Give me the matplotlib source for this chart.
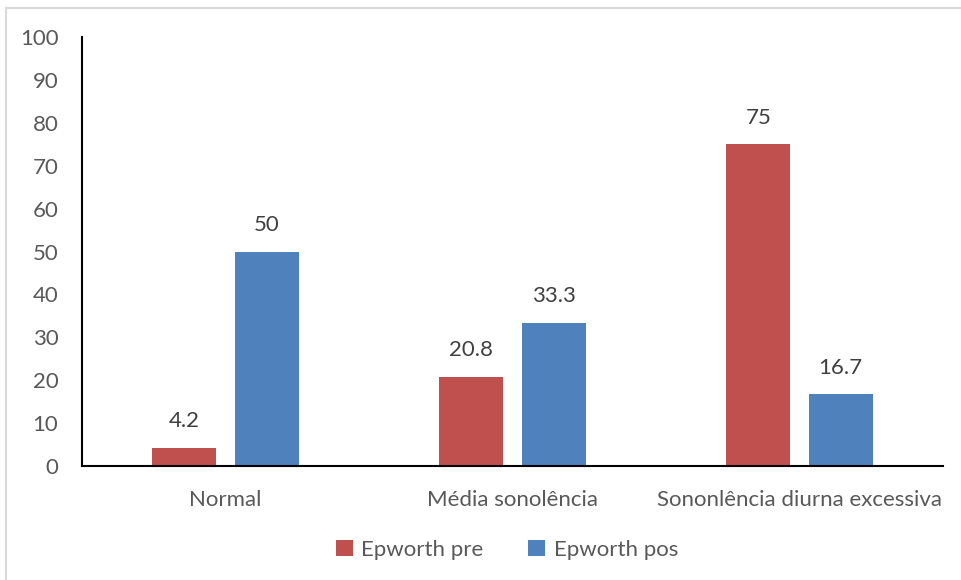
import matplotlib.pyplot as plt
import numpy as np

categories = ['Normal', 'Média sonolência', 'Sononlência diurna excessiva']
epworth_pre = [4.2, 20.8, 75]
epworth_pos = [50, 33.3, 16.7]
pre_labels = ['4.2', '20.8', '75']
pos_labels = ['50', '33.3', '16.7']

plt.rcParams['font.family'] = ['Lato', 'DejaVu Sans']
fs = 16

fig = plt.figure(figsize=(9.61, 5.80), dpi=100)
ax = fig.add_axes([82 / 961, 1 - 466 / 580, (943 - 82) / 961, (466 - 37) / 580])

x = np.arange(len(categories))
w = 0.223
off = 0.143
b1 = ax.bar(x - off, epworth_pre, w, color='#C0504D', label='Epworth pre')
b2 = ax.bar(x + off, epworth_pos, w, color='#4F81BD', label='Epworth pos')

for bars, labels in ((b1, pre_labels), (b2, pos_labels)):
    for b, t in zip(bars, labels):
        ax.annotate(t, (b.get_x() + b.get_width() / 2, b.get_height()),
                    xytext=(0, 12), textcoords='offset points',
                    ha='center', va='bottom', fontsize=fs, color='#404040')

ax.set_xlim(-0.5, 2.5)
ax.set_ylim(0, 100)
ax.set_yticks(range(0, 101, 10))
ax.set_xticks(x)
ax.set_xticklabels(categories)
ax.tick_params(axis='both', length=0, labelsize=fs, colors='#595959')
ax.tick_params(axis='y', pad=17)
ax.tick_params(axis='x', pad=17)
for s in ('top', 'right'):
    ax.spines[s].set_visible(False)
for s in ('left', 'bottom'):
    ax.spines[s].set_linewidth(1.5)
    ax.spines[s].set_color('black')

fig.legend(loc='center', bbox_to_anchor=(507 / 961, 1 - 550 / 580), ncol=2, frameon=False,
           fontsize=fs, labelcolor='#595959', handlelength=0.75, handleheight=0.75,
           handletextpad=0.4, columnspacing=2.0)

# chart area outline
fig.add_artist(plt.Line2D([6 / 961, 6 / 961], [0, 1 - 8 / 580], color='#D9D9D9', lw=1.5))
fig.add_artist(plt.Line2D([6 / 961, 1], [1 - 8 / 580, 1 - 8 / 580], color='#D9D9D9', lw=1.5))

fig.savefig('out.png', dpi=100)
